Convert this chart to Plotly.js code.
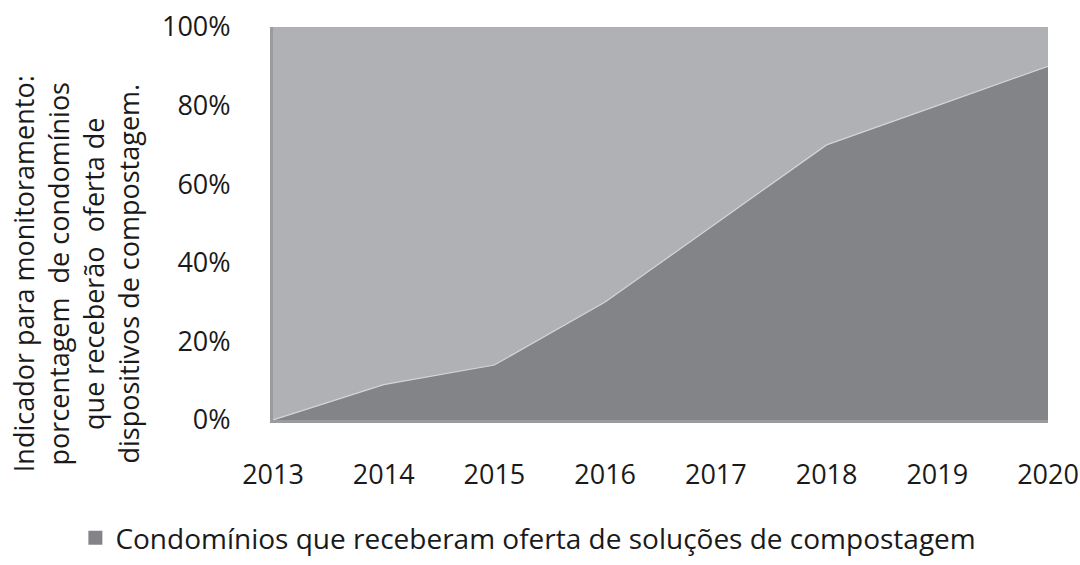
<!DOCTYPE html>
<html>
<head>
<meta charset="utf-8">
<script src="https://cdn.plot.ly/plotly-3.0.1.min.js"></script>
<style>html,body{margin:0;padding:0;background:#fff;}#chart{width:1080px;height:565px;}</style>
</head>
<body>
<div id="chart"></div>
<script>
const years = [2013, 2014, 2015, 2016, 2017, 2018, 2019, 2020];
const totalPct = [100, 100, 100, 100, 100, 100, 100, 100];
const condominiosPct = [0, 9, 14, 30, 50, 70, 80, 90];
const yTickVals = [0, 20, 40, 60, 80, 100];
const yTickText = ['0%', '20%', '40%', '60%', '80%', '100%'];
const seriesName = 'Condomínios que receberam oferta de soluções de compostagem';
const yTitle = 'Indicador para monitoramento:<br>porcentagem  de condomínios<br>que receberão  oferta de<br>dispositivos de compostagem.';

const FONT = '"Open Sans", "Noto Sans", sans-serif';
const DARK = '#838488';
const LIGHT = '#b0b1b4';

const traces = [
  {
    x: years, y: totalPct, type: 'scatter', mode: 'lines',
    fill: 'tozeroy', fillcolor: LIGHT,
    line: {width: 0, color: LIGHT},
    showlegend: false, hoverinfo: 'skip'
  },
  {
    x: years, y: condominiosPct, type: 'scatter', mode: 'lines',
    name: seriesName, legendgroup: 'c',
    fill: 'tozeroy', fillcolor: DARK,
    line: {width: 1.2, color: '#d4d5d7'},
    showlegend: false
  },
  {
    x: [null], y: [null], type: 'scatter', mode: 'markers',
    name: seriesName, legendgroup: 'c',
    marker: {symbol: 'square', size: 14, color: DARK},
    showlegend: true
  }
];

const layout = {
  width: 1080, height: 565,
  margin: {l: 273, r: 32, t: 27, b: 145, autoexpand: false},
  paper_bgcolor: '#ffffff', plot_bgcolor: '#ffffff',
  font: {family: FONT, color: '#1a1a1a', size: 27},
  xaxis: {
    range: [2013, 2020], tickvals: years, ticktext: years.map(String),
    showgrid: false, zeroline: false,
    showline: true, linecolor: '#9a9b9e', linewidth: 3,
    ticks: '', ticklabelstandoff: 29,
    tickfont: {size: 27, family: FONT, color: '#1a1a1a'},
    automargin: false
  },
  yaxis: {
    range: [0, 100], tickvals: yTickVals, ticktext: yTickText,
    showgrid: false, zeroline: false,
    showline: true, linecolor: '#9a9b9e', linewidth: 3,
    ticks: '', ticklabelstandoff: 34,
    tickfont: {size: 27, family: FONT, color: '#1a1a1a'},
    automargin: false
  },
  annotations: [{
    text: yTitle, textangle: -90, showarrow: false,
    xref: 'paper', yref: 'paper', x: -0.255, y: 0.372,
    xanchor: 'center', yanchor: 'middle', align: 'center',
    font: {size: 27, family: FONT, color: '#1a1a1a'}
  }],
  showlegend: true,
  legend: {
    orientation: 'h', x: -0.255, xanchor: 'left', y: -0.237, yanchor: 'top',
    font: {size: 28, family: FONT, color: '#1a1a1a'},
    bgcolor: 'rgba(0,0,0,0)', itemwidth: 30
  }
};

Plotly.newPlot('chart', traces, layout, {staticPlot: true, displayModeBar: false});
</script>
</body>
</html>
